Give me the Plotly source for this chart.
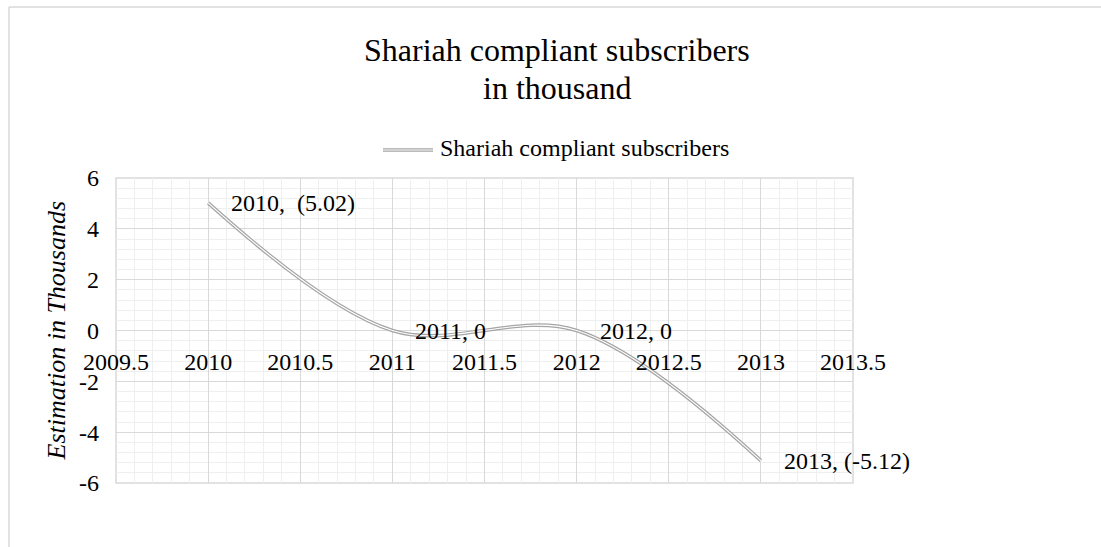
import plotly.graph_objects as go

# Data
years = [2010, 2011, 2012, 2013]
subscribers = [5.02, 0, 0, -5.12]

x_ticks = [2009.5, 2010, 2010.5, 2011, 2011.5, 2012, 2012.5, 2013, 2013.5]
x_tick_text = ["2009.5", "2010", "2010.5", "2011", "2011.5", "2012", "2012.5", "2013", "2013.5"]
y_ticks = [-6, -4, -2, 0, 2, 4, 6]
y_tick_text = ["-6", "-4", "-2", "0", "2", "4", "6"]

series_name = "Shariah compliant subscribers"
title_lines = ["Shariah compliant subscribers", "in thousand"]
y_title = "Estimation in Thousands"

FONT = "Liberation Serif"
LINE_GRAY = "#a5a5a5"
MAJOR_GRID = "#d9d9d9"
MINOR_GRID = "#efefef"

W, H = 1101, 547
L, R, T, B = 116, 248, 178, 64
PW, PH = W - L - R, H - T - B


def px_x(px):
    return (px - L) / PW


def px_y(py):
    return (H - B - py) / PH


def value_label(year, v):
    if v > 0:
        return f"{year},  ({v:.2f})"
    if v < 0:
        return f"{year}, ({v:.2f})"
    return f"{year}, 0"


fig = go.Figure()

# Double line: wide gray stroke with a thin white stroke on top
fig.add_trace(go.Scatter(
    x=years, y=subscribers, mode="lines",
    line=dict(color=LINE_GRAY, width=3.6, shape="spline", smoothing=1),
    showlegend=False, hoverinfo="skip",
))
fig.add_trace(go.Scatter(
    x=years, y=subscribers, mode="lines",
    line=dict(color="white", width=1.2, shape="spline", smoothing=1),
    showlegend=False, name=series_name,
))

annotations = []
for yr, v in zip(years, subscribers):
    annotations.append(dict(
        x=yr, y=v, xref="x", yref="y", text=value_label(yr, v),
        showarrow=False, xanchor="left", yanchor="middle", xshift=21,
        font=dict(family=FONT, size=24, color="#000000"),
    ))

# Title lines
annotations.append(dict(
    x=px_x(557), y=px_y(50), xref="paper", yref="paper", text=title_lines[0],
    showarrow=False, xanchor="center", yanchor="middle",
    font=dict(family=FONT, size=32, color="#000000"),
))
annotations.append(dict(
    x=px_x(557), y=px_y(88), xref="paper", yref="paper", text=title_lines[1],
    showarrow=False, xanchor="center", yanchor="middle",
    font=dict(family=FONT, size=32, color="#000000"),
))

# Legend text
annotations.append(dict(
    x=px_x(438), y=px_y(148), xref="paper", yref="paper", text=series_name,
    showarrow=False, xanchor="left", yanchor="middle",
    font=dict(family=FONT, size=24, color="#000000"),
))

# Y axis title
annotations.append(dict(
    x=px_x(56), y=0.5, xref="paper", yref="paper", text=f"<i>{y_title}</i>",
    showarrow=False, xanchor="center", yanchor="middle", textangle=-90,
    font=dict(family=FONT, size=26, color="#000000"),
))

shapes = [
    # chart area border (top and left edges fall inside the canvas)
    dict(type="line", xref="paper", yref="paper",
         x0=px_x(9), x1=px_x(1200), y0=px_y(7), y1=px_y(7),
         line=dict(color=MAJOR_GRID, width=1.5), layer="below"),
    dict(type="line", xref="paper", yref="paper",
         x0=px_x(9), x1=px_x(9), y0=px_y(7), y1=px_y(700),
         line=dict(color=MAJOR_GRID, width=1.5), layer="below"),
    # plot area border
    dict(type="rect", xref="paper", yref="paper", x0=0, x1=1, y0=0, y1=1,
         line=dict(color=MAJOR_GRID, width=1.5), fillcolor="rgba(0,0,0,0)", layer="below"),
    # legend symbol
    dict(type="line", xref="paper", yref="paper",
         x0=px_x(383), x1=px_x(433), y0=px_y(150), y1=px_y(150),
         line=dict(color=LINE_GRAY, width=3.6)),
    dict(type="line", xref="paper", yref="paper",
         x0=px_x(383), x1=px_x(433), y0=px_y(150), y1=px_y(150),
         line=dict(color="white", width=1.2)),
]

fig.update_layout(
    width=W, height=H,
    margin=dict(l=L, r=R, t=T, b=B, pad=0),
    paper_bgcolor="white", plot_bgcolor="white",
    font=dict(family=FONT, size=24, color="#000000"),
    showlegend=False,
    annotations=annotations,
    shapes=shapes,
    xaxis=dict(
        range=[2009.5, 2013.5], tickvals=x_ticks, ticktext=x_tick_text,
        anchor="free", position=0.5, showline=False, zeroline=False,
        showgrid=True, gridcolor=MAJOR_GRID, gridwidth=1.4,
        minor=dict(dtick=0.1, tick0=2009.5, showgrid=True, gridcolor=MINOR_GRID, gridwidth=1.3),
        ticks="", ticklabelstandoff=14,
        tickfont=dict(family=FONT, size=24, color="#000000"),
    ),
    yaxis=dict(
        range=[-6, 6], tickvals=y_ticks, ticktext=y_tick_text,
        showline=False, zeroline=False,
        showgrid=True, gridcolor=MAJOR_GRID, gridwidth=1.4,
        minor=dict(dtick=0.4, tick0=0, showgrid=True, gridcolor=MINOR_GRID, gridwidth=1.3),
        ticks="", ticklabelstandoff=16,
        tickfont=dict(family=FONT, size=24, color="#000000"),
    ),
)

fig.write_html("out.html")
